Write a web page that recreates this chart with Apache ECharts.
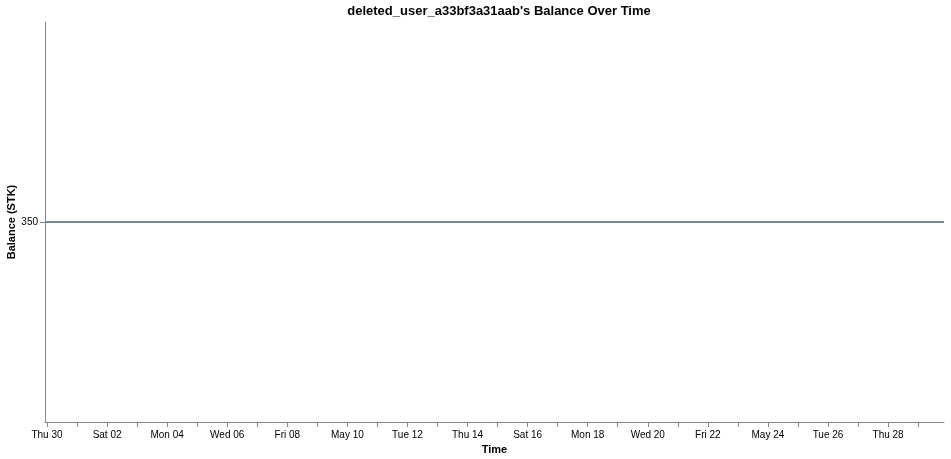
<!DOCTYPE html>
<html><head><meta charset="utf-8">
<script src="https://cdn.jsdelivr.net/npm/echarts@6/dist/echarts.min.js"></script>
<style>html,body{margin:0;padding:0;background:#fff}#c{width:951px;height:459px}</style>
</head><body><div id="c"></div>
<script>
const title = "deleted_user_a33bf3a31aab's Balance Over Time";
const times = ["2026-04-29T22:24:00", "2026-05-29T20:40:00"];
const balances = [350, 350];
const yTicks = [350];
const xStart = "2026-04-29T22:24:00";
const xEnd = "2026-05-29T20:40:00";

const DAY = 86400000;
const startMs = new Date(xStart).getTime();
const endMs = new Date(xEnd).getTime();
const dayTicks = [];
const labelTicks = [];
let d0 = new Date(2026, 3, 30).getTime();
for (let t = d0, i = 0; t <= endMs; t += DAY, i++) {
  dayTicks.push(t);
  if (i % 2 === 0) labelTicks.push(t);
}
const wd = ['Sun','Mon','Tue','Wed','Thu','Fri','Sat'];
const mo = ['Jan','Feb','Mar','Apr','May','Jun','Jul','Aug','Sep','Oct','Nov','Dec'];
function fmt(v){
  const d = new Date(v);
  const dd = String(d.getDate()).padStart(2,'0');
  if (d.getDay() === 0 || d.getDate() === 1) return mo[d.getMonth()] + ' ' + dd;
  return wd[d.getDay()] + ' ' + dd;
}
const font = 'Liberation Sans, Arial, sans-serif';
const chart = echarts.init(document.getElementById('c'));
chart.setOption({
  animation: false,
  title: { text: title, left: 494, textAlign: 'center', top: 0,
    textStyle: { fontFamily: font, fontSize: 13, fontWeight: 'bold', color: '#000' } },
  grid: { left: 45, right: 7, top: 22, bottom: 37, containLabel: false, outerBoundsMode: 'none' },
  xAxis: {
    type: 'value', min: startMs, max: endMs,
    name: 'Time', nameLocation: 'middle', nameGap: 22, nameMoveOverlap: false,
    nameTextStyle: { fontFamily: font, fontSize: 11, fontWeight: 'bold', color: '#000' },
    axisLine: { lineStyle: { color: '#888', width: 1 } },
    axisTick: { customValues: dayTicks, length: 5, lineStyle: { color: '#888' } },
    axisLabel: { customValues: labelTicks, formatter: fmt, fontFamily: font, fontSize: 10, color: '#000', margin: 8, showMinLabel: true, showMaxLabel: true },
    splitLine: { show: false }
  },
  yAxis: {
    type: 'value', min: 349, max: 351,
    name: 'Balance (STK)', nameLocation: 'middle', nameGap: 28, nameRotate: 90, nameMoveOverlap: false,
    nameTextStyle: { fontFamily: font, fontSize: 11, fontWeight: 'bold', color: '#000' },
    axisLine: { show: true, lineStyle: { color: '#888', width: 1 } },
    axisTick: { show: true, customValues: yTicks, length: 5, lineStyle: { color: '#888' } },
    axisLabel: { customValues: yTicks, fontFamily: font, fontSize: 10, color: '#000', margin: 7 },
    splitLine: { show: false }
  },
  series: [{
    type: 'line', data: times.map((t,i)=>[new Date(t).getTime(), balances[i]]),
    showSymbol: false, symbol: 'none',
    lineStyle: { color: '#778899', width: 2 }
  }]
});
</script></body></html>
